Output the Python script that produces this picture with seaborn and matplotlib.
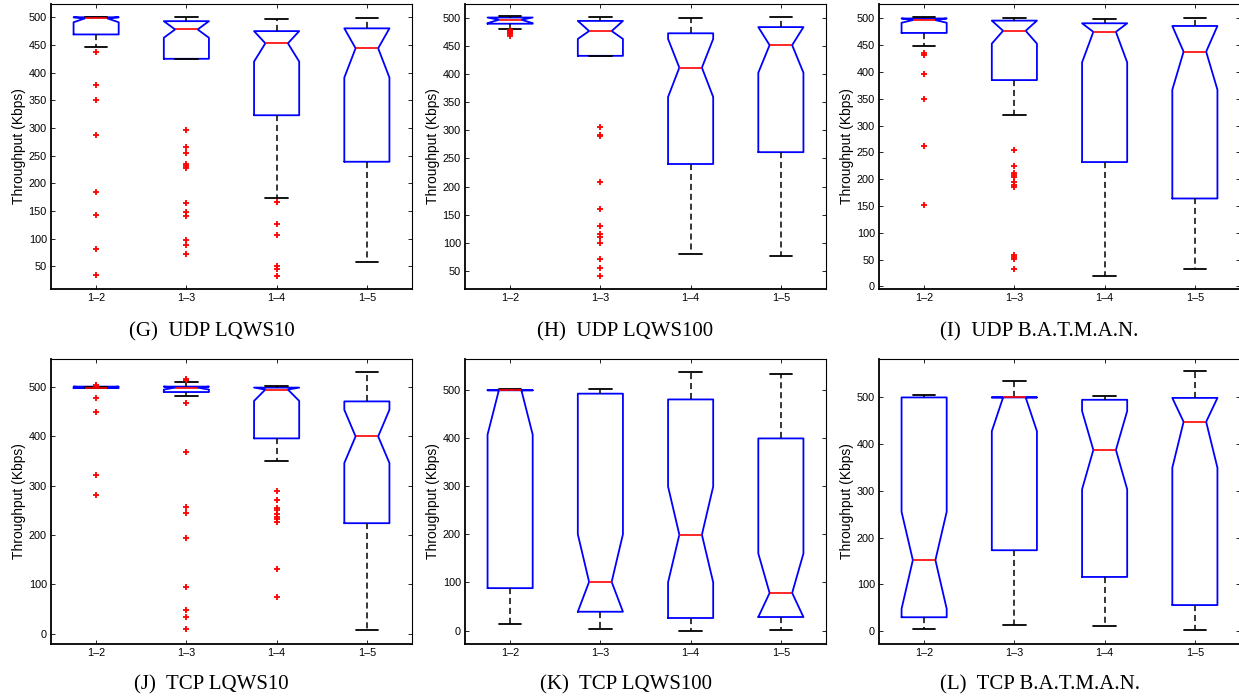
import matplotlib

matplotlib.use("Agg")
import matplotlib.pyplot as plt
import pandas as pd
import seaborn as sns

# Node pairs on the x axis of every panel
PAIRS = ["1–2", "1–3", "1–4", "1–5"]
CAPTIONS = [
    "(G)  UDP LQWS10",
    "(H)  UDP LQWS100",
    "(I)  UDP B.A.T.M.A.N.",
    "(J)  TCP LQWS10",
    "(K)  TCP LQWS100",
    "(L)  TCP B.A.T.M.A.N.",
]

# Box statistics (Kbps), one row per panel, one value per pair
Q1 = [
    [469, 425, 323, 239],
    [489, 432, 240, 261],
    [473, 385, 232, 164],
    [498, 490, 396, 224],
    [88, 39, 26, 28],
    [30, 173, 116, 56],
]
MED = [
    [498, 478, 453, 444],
    [496, 476, 411, 451],
    [497, 477, 475, 438],
    [499, 499, 495, 400],
    [499, 101, 199, 78],
    [152, 499, 387, 447],
]
Q3 = [
    [500, 493, 475, 480],
    [500, 494, 472, 483],
    [500, 496, 491, 486],
    [501, 501, 499, 471],
    [499, 492, 480, 399],
    [499, 499, 494, 498],
]
WHIS_LO = [
    [446, 425, 174, 57],
    [480, 432, 81, 77],
    [448, 319, 19, 33],
    [498, 481, 351, 7],
    [13, 3, 0, 1],
    [5, 13, 11, 2],
]
WHIS_HI = [
    [501, 500, 497, 499],
    [502, 501, 499, 501],
    [503, 501, 499, 500],
    [501, 511, 503, 530],
    [502, 501, 537, 533],
    [504, 534, 501, 555],
]
NOTCH_LO = [
    [491, 463, 420, 391],
    [490, 462, 359, 402],
    [492, 453, 418, 367],
    [498, 495, 472, 346],
    [407, 39, 100, 28],
    [48, 427, 303, 349],
]
NOTCH_HI = [
    [500, 493, 475, 480],
    [500, 494, 462, 483],
    [500, 496, 491, 486],
    [501, 501, 499, 454],
    [499, 200, 299, 160],
    [255, 499, 470, 498],
]
OUTLIERS = [
    [[437, 378, 351, 287, 184, 142, 82, 34],
     [297, 266, 255, 235, 232, 228, 164, 149, 141, 98, 89, 72],
     [167, 127, 106, 51, 46, 32],
     []],
    [[478, 476, 474, 472, 470, 468],
     [305, 291, 290, 208, 160, 130, 115, 111, 100, 71, 56, 41],
     [],
     []],
    [[435, 432, 396, 349, 262, 152],
     [255, 225, 212, 207, 204, 194, 190, 186, 59, 55, 51, 33],
     [],
     []],
    [[505, 503, 478, 449, 321, 281],
     [516, 514, 467, 368, 257, 245, 193, 94, 47, 34, 10],
     [290, 272, 254, 251, 243, 237, 233, 227, 131, 75],
     []],
    [[], [], [], []],
    [[], [], [], []],
]

Y_LIMS = [(10, 524), (19, 524), (-4, 527), (-20, 557), (-27, 564), (-26, 581)]
Y_TICKS = [
    range(50, 501, 50),
    range(50, 501, 50),
    range(0, 501, 50),
    range(0, 501, 100),
    range(0, 501, 100),
    range(0, 501, 100),
]

sns.set_style("ticks", {"xtick.direction": "in", "ytick.direction": "in"})
plt.rcParams["font.family"] = ["Liberation Sans", "DejaVu Sans"]
plt.rcParams["text.color"] = "black"
plt.rcParams["axes.labelcolor"] = "black"
plt.rcParams["xtick.color"] = "black"
plt.rcParams["ytick.color"] = "black"
plt.rcParams["axes.edgecolor"] = "black"

W, H = 1239, 698
fig = plt.figure(figsize=(W / 100, H / 100), dpi=100)
fig.patch.set_facecolor("white")

LEFTS = [51, 465, 879]
TOPS = [4, 359]
AX_W, AX_H = 361, 284.5
CAPTION_Y = [331.7, 685]

for i, caption in enumerate(CAPTIONS):
    row, col = divmod(i, 3)
    left, top = LEFTS[col], TOPS[row]
    ax = fig.add_axes([left / W, 1 - (top + AX_H) / H, AX_W / W, AX_H / H])

    stats = [
        dict(med=MED[i][j], q1=Q1[i][j], q3=Q3[i][j],
             whislo=WHIS_LO[i][j], whishi=WHIS_HI[i][j],
             cilo=NOTCH_LO[i][j], cihi=NOTCH_HI[i][j],
             fliers=OUTLIERS[i][j])
        for j in range(len(PAIRS))
    ]
    df = pd.DataFrame({"pair": PAIRS, "throughput": MED[i]})
    sns.boxplot(
        data=df, x="pair", y="throughput", ax=ax,
        width=0.5, fill=False, linewidth=1.3,
        bxpstats=stats, shownotches=True,
        boxprops=dict(color="#0000ff"),
        medianprops=dict(color="#ff0000", linewidth=1.2),
        whiskerprops=dict(color="black", linestyle=(0, (4, 2.5)), linewidth=1.1),
        capprops=dict(color="black"),
        flierprops=dict(marker="+", markeredgecolor="#ff0000",
                        markersize=5, markeredgewidth=1.3),
    )

    ax.set_ylim(*Y_LIMS[i])
    ax.set_yticks(list(Y_TICKS[i]))
    ax.set_xlim(-0.5, 3.5)
    ax.set_xlabel("")
    ax.set_ylabel("Throughput (Kbps)", fontsize=10)
    ax.yaxis.set_label_coords(-0.07, 0.5)
    ax.tick_params(top=True, right=True, direction="in", length=3,
                   width=0.6, labelsize=7.8, pad=3)
    for side in ("left", "bottom"):
        ax.spines[side].set_linewidth(1.3)
    for side in ("top", "right"):
        ax.spines[side].set_linewidth(0.8)

    fig.text((left + AX_W / 2 - 20) / W, 1 - CAPTION_Y[row] / H, caption,
             family=["Liberation Serif", "DejaVu Serif"], fontsize=15,
             ha="center", va="center")

fig.savefig("out.png", dpi=100)
